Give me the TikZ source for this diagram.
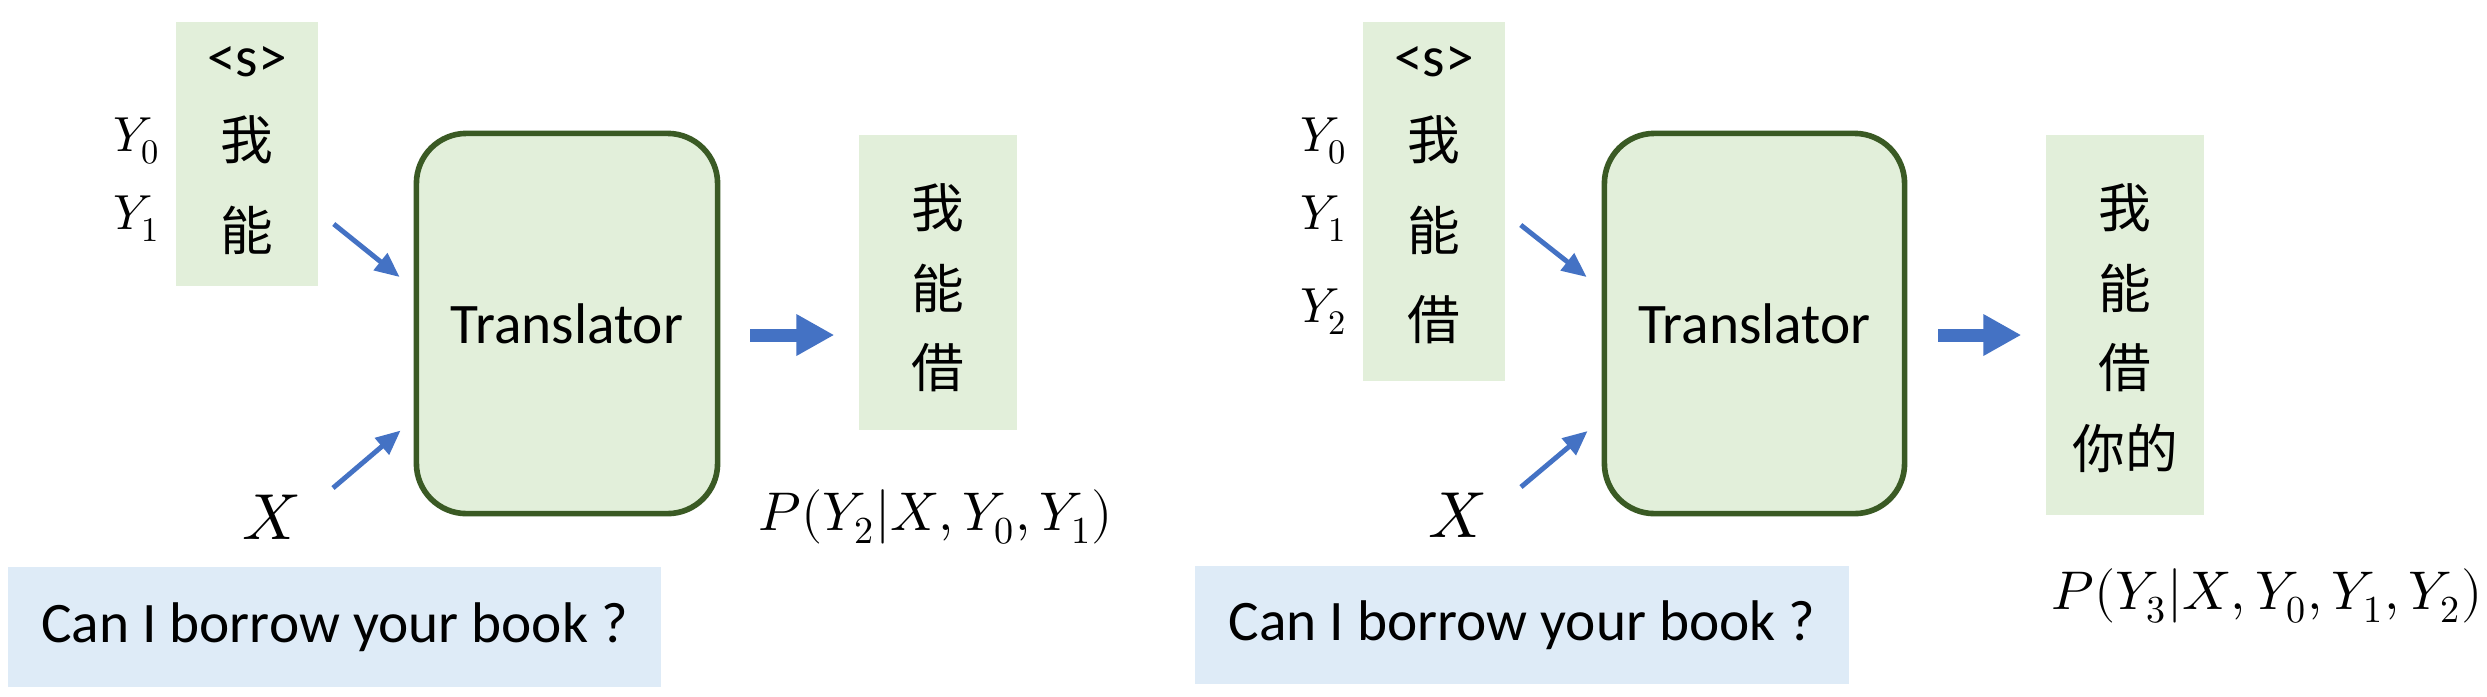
\documentclass[tikz,border=0pt]{standalone}
\usepackage{fontspec}
\usepackage{unicode-math}
\setmainfont{Carlito}
\setmathfont{Latin Modern Math}
\newfontfamily\cjk{Noto Sans CJK SC}
\usetikzlibrary{arrows.meta,calc}
\definecolor{boxgreen}{HTML}{E2EFDA}
\definecolor{edgegreen}{HTML}{3A5A24}
\definecolor{srcblue}{HTML}{DEEBF7}
\definecolor{arrowblue}{HTML}{4472C4}
\tikzset{%
	tokbox/.style     = {fill=boxgreen, inner sep=0pt, minimum width=1.42cm},
	tok/.style        = {font={\cjk\fontsize{15}{18}\selectfont}, inner sep=0pt},
	starttok/.style   = {font=\fontsize{16.3}{18}\selectfont, inner sep=0pt},
	translator/.style = {draw=edgegreen, fill=boxgreen, line width=1.6pt, rounded corners=0.5cm, minimum width=3.01cm, minimum height=3.8cm, font=\fontsize{16.3}{18}\selectfont},
	srcbox/.style     = {fill=srcblue, inner sep=0pt, minimum width=6.53cm, minimum height=1.19cm, font=\fontsize{16.3}{18}\selectfont},
	ylab/.style       = {anchor=base, inner sep=0pt, font=\fontsize{14}{16}\selectfont},
	xlab/.style       = {anchor=base, inner sep=0pt, font=\fontsize{18.5}{20}\selectfont},
	plab/.style       = {anchor=base, inner sep=0pt, font=\fontsize{15.5}{18}\selectfont},
	thinarrow/.style  = {draw=arrowblue, line width=1.4pt, -{Triangle[length=7pt,width=6pt]}},
	bigarrow/.style   = {draw=arrowblue, line width=3.7pt, -{Triangle[length=10.8pt,width=11.1pt]}},
}

\begin{document}
\begin{tikzpicture}[x=0.01cm,y=-0.01cm]
	\useasboundingbox (0,0) rectangle (2487,696);
	
	\node[tokbox, minimum height=2.64cm] (in1) at (247,154) {};
	\node[starttok] (in1-0) at (247,62) {<s>};
	\foreach \t/\y [count=\i] in {我/140,能/230} \node[tok] (in1-\i) at (247,\y) {\t};
	\foreach \y [count=\i from 0] in {151,229} \node[ylab] (ya-\i) at (137,\y) {$Y_{\i}$};
	
	\node[translator] (tr1) at (567,323.5) {Translator};
	\node[xlab] (x1) at (271,539) {$X$};
	\node[srcbox] (src1) at (334.5,627) {Can I borrow your book ?};
	
	\node[tokbox, minimum width=1.58cm, minimum height=2.95cm] (out1) at (938,282.5) {};
	\foreach \t/\y [count=\i] in {我/208,能/288,借/368} \node[tok] (out1-\i) at (938,\y) {\t};
	\node[plab] (p1) at (936,530) {$P(Y_2|X,Y_0,Y_1)$};
	
	\coordinate (lvl) at (0,335);
	\draw[thinarrow] ($(in1.east)+(15,70)$) -- ($(tr1.west)+(-14,-46.5)$);
	\draw[thinarrow] ($(x1.base)+(62,-51)$) -- ($(tr1.west)+(-13,107)$);
	\draw[bigarrow, shorten <=8.5pt, shorten >=6.8pt] (tr1.east |- lvl) -- (out1.west |- lvl);
	
	\node[tokbox, minimum height=3.59cm] (in2) at (1434,201.5) {};
	\node[starttok] (in2-0) at (1434,62) {<s>};
	\foreach \t/\y [count=\i] in {我/140,能/230,借/320} \node[tok] (in2-\i) at (1434,\y) {\t};
	\foreach \y [count=\i from 0] in {151,229,322} \node[ylab] (yb-\i) at (1324,\y) {$Y_{\i}$};
	
	\node[translator, minimum width=3.0cm] (tr2) at (1754.5,323.5) {Translator};
	\node[xlab] (x2) at (1457,537) {$X$};
	\node[srcbox, minimum width=6.54cm, minimum height=1.18cm] (src2) at (1522,625) {Can I borrow your book ?};
	
	\node[tokbox, minimum width=1.58cm, minimum height=3.8cm] (out2) at (2125,325) {};
	\foreach \t/\y [count=\i] in {我/208,能/288,借/368,你的/448} \node[tok] (out2-\i) at (2125,\y) {\t};
	\node[plab, anchor=base east] (p2) at (2483,609) {$P(Y_3|X,Y_0,Y_1,Y_2)$};
	
	\draw[thinarrow] ($(in2.east)+(15,23.5)$) -- ($(tr2.west)+(-15,-46.5)$);
	\draw[thinarrow] ($(x2.base)+(64,-50)$) -- ($(tr2.west)+(-14,107.5)$);
	\draw[bigarrow, shorten <=8.8pt, shorten >=6.8pt] (tr2.east |- lvl) -- (out2.west |- lvl);
\end{tikzpicture}
\end{document}
